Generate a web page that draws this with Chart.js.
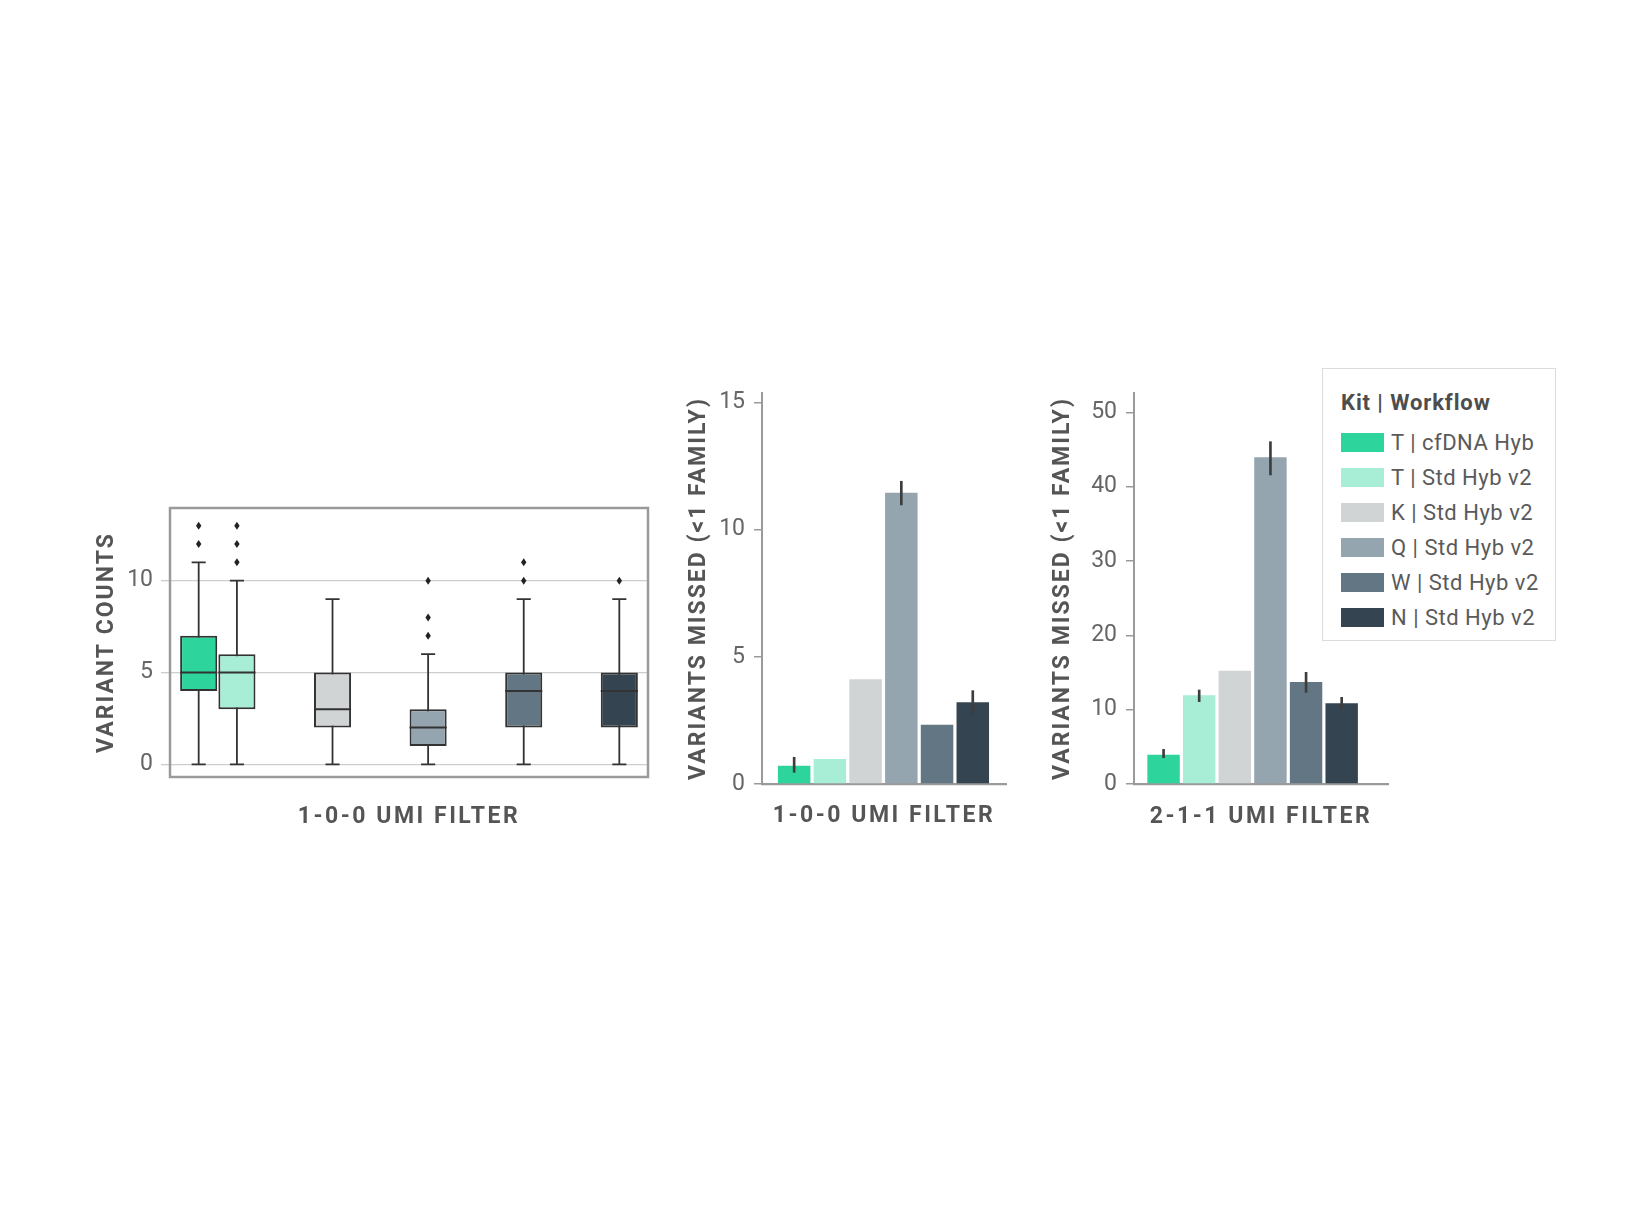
<!DOCTYPE html>
<html>
<head>
<meta charset="utf-8">
<script src="https://cdn.jsdelivr.net/npm/chart.js@4.4.1/dist/chart.umd.min.js"></script>
<style>
  html, body { margin: 0; background: #fff; }
  body { width: 1632px; height: 1224px; position: relative; overflow: hidden; font-family: Roboto, sans-serif; }
  .panel { position: absolute; }
  #legend {
    position: absolute; left: 1322px; top: 368px; width: 234px; height: 273px;
    box-sizing: border-box; border: 1px solid #dcdcdc; background: #fff;
  }
  #legend .title { margin: 19px 0 0 18px; font: 700 22px/30px Roboto, sans-serif; color: #4d4d4d; letter-spacing: 0.9px; }
  #legend .rows { margin-top: 7px; }
  #legend .row { display: flex; align-items: center; height: 35px; margin-left: 18px;
    font: 400 22px/35px Roboto, sans-serif; color: #5a5a5a; white-space: nowrap; letter-spacing: 0.5px; }
  #legend .sw { width: 43px; height: 19px; margin-right: 7px; flex: none; }
</style>
</head>
<body>
<div class="panel" style="left:80px;top:480px;width:590px;height:360px"><canvas id="boxChart"></canvas></div>
<div class="panel" style="left:671px;top:360px;width:355px;height:480px"><canvas id="missed100"></canvas></div>
<div class="panel" style="left:1035px;top:360px;width:373px;height:480px"><canvas id="missed211"></canvas></div>
<div id="legend"><div class="title">Kit | Workflow</div><div class="rows"></div></div>

<script>
// kits and workflows
const boxKits = ['T', 'K', 'Q', 'W', 'N'];
const kitLabels = ['T | cfDNA Hyb', 'T | Std Hyb v2', 'K | Std Hyb v2', 'Q | Std Hyb v2', 'W | Std Hyb v2', 'N | Std Hyb v2'];
const kitColors = ['#2dd49b', '#a8edd5', '#d0d4d5', '#95a5af', '#637684', '#344551'];

// variant counts, 1-0-0 UMI filter (cfDNA Hyb was only run with kit T)
const cfdnaQ1 = [4, null, null, null, null];
const cfdnaQ3 = [7, null, null, null, null];
const cfdnaMedian = [5, null, null, null, null];
const cfdnaLow = [0, null, null, null, null];
const cfdnaHigh = [11, null, null, null, null];
const cfdnaOutliers = [[12, 13], [], [], [], []];

const stdQ1 = [3, 2, 1, 2, 2];
const stdQ3 = [6, 5, 3, 5, 5];
const stdMedian = [5, 3, 2, 4, 4];
const stdLow = [0, 0, 0, 0, 0];
const stdHigh = [10, 9, 6, 9, 9];
const stdOutliers = [[11, 12, 13], [], [7, 8, 10], [10, 11], [10]];

// variants missed (<1 family), mean and error bar ends
const missed100 = [0.72, 0.98, 4.12, 11.45, 2.33, 3.21];
const missed100Low = [0.46, null, null, 10.97, null, 2.75];
const missed100High = [1.05, null, null, 11.9, null, 3.67];

const missed211 = [3.92, 11.95, 15.25, 43.95, 13.72, 10.87];
const missed211Low = [3.54, 11.08, null, 41.57, 12.33, 10.09];
const missed211High = [4.66, 12.65, null, 46.05, 15.02, 11.66];

const axisGrey = '#9a9a9a';
const titleGrey = '#555';
const tickGrey = '#666';

Chart.defaults.font.family = 'Roboto, sans-serif';
Chart.defaults.animation = false;
Chart.defaults.plugins.legend.display = false;
Chart.defaults.plugins.tooltip.enabled = false;

// axis titles are letter-spaced in the original
const spacedTitles = {
  id: 'spacedTitles',
  beforeDraw(chart) {
    Object.values(chart.scales).forEach(scale => {
      if (scale.$spaced) return;
      const drawTitle = scale.drawTitle;
      scale.drawTitle = function () {
        this.ctx.save();
        this.ctx.letterSpacing = this.axis === 'x' ? '2.5px' : '2px';
        drawTitle.call(this);
        this.ctx.restore();
      };
      scale.$spaced = true;
    });
  }
};

// box plot helpers: whiskers, medians, outliers, frame
const boxStats = [
  { median: cfdnaMedian, low: cfdnaLow, high: cfdnaHigh, outliers: cfdnaOutliers },
  { median: stdMedian, low: stdLow, high: stdHigh, outliers: stdOutliers }
];

const boxParts = {
  id: 'boxParts',
  beforeDatasetsDraw(chart) {
    const { ctx } = chart;
    const y = chart.scales.y;
    ctx.save();
    ctx.strokeStyle = '#333';
    ctx.lineWidth = 1.8;
    boxStats.forEach((s, d) => {
      chart.getDatasetMeta(d).data.forEach((bar, i) => {
        if (s.median[i] === null) return;
        const cap = bar.width * 0.19;
        const yl = y.getPixelForValue(s.low[i]);
        const yh = y.getPixelForValue(s.high[i]);
        ctx.beginPath();
        ctx.moveTo(bar.x, yl); ctx.lineTo(bar.x, yh);
        ctx.moveTo(bar.x - cap, yl); ctx.lineTo(bar.x + cap, yl);
        ctx.moveTo(bar.x - cap, yh); ctx.lineTo(bar.x + cap, yh);
        ctx.stroke();
      });
    });
    ctx.restore();
  },
  afterDatasetsDraw(chart) {
    const { ctx } = chart;
    const y = chart.scales.y;
    ctx.save();
    boxStats.forEach((s, d) => {
      chart.getDatasetMeta(d).data.forEach((bar, i) => {
        if (s.median[i] === null) return;
        const ym = y.getPixelForValue(s.median[i]);
        ctx.strokeStyle = '#333';
        ctx.lineWidth = 2;
        ctx.beginPath();
        ctx.moveTo(bar.x - bar.width / 2, ym);
        ctx.lineTo(bar.x + bar.width / 2, ym);
        ctx.stroke();
        ctx.fillStyle = '#222';
        s.outliers[i].forEach(v => {
          const yo = y.getPixelForValue(v);
          ctx.beginPath();
          ctx.moveTo(bar.x, yo - 4);
          ctx.lineTo(bar.x + 2.7, yo);
          ctx.lineTo(bar.x, yo + 4);
          ctx.lineTo(bar.x - 2.7, yo);
          ctx.closePath();
          ctx.fill();
        });
      });
    });
    ctx.restore();
  },
  afterDraw(chart) {
    const { ctx, chartArea: a } = chart;
    ctx.save();
    ctx.strokeStyle = axisGrey;
    ctx.lineWidth = 2.5;
    ctx.strokeRect(a.left, a.top, a.right - a.left, a.bottom - a.top);
    ctx.restore();
  }
};

new Chart(document.getElementById('boxChart'), {
  type: 'bar',
  data: {
    labels: boxKits,
    datasets: [
      {
        label: kitLabels[0],
        data: cfdnaQ1.map((q, i) => q === null ? null : [q, cfdnaQ3[i]]),
        backgroundColor: kitColors[0]
      },
      {
        label: 'Std Hyb v2',
        data: stdQ1.map((q, i) => [q, stdQ3[i]]),
        backgroundColor: kitColors.slice(1)
      }
    ]
  },
  options: {
    responsive: true,
    maintainAspectRatio: false,
    layout: { padding: { left: 10, top: 28, right: 22, bottom: 9 } },
    datasets: {
      bar: {
        categoryPercentage: 0.8,
        barPercentage: 0.97,
        borderColor: '#333',
        borderWidth: 2,
        borderSkipped: false
      }
    },
    scales: {
      x: {
        ticks: { display: false },
        grid: { display: false },
        border: { display: false },
        title: { display: true, text: '1-0-0 UMI FILTER', color: titleGrey, font: { size: 23, weight: 'bold' }, padding: 0 },
        afterFit: s => { s.height = 54; }
      },
      y: {
        min: -0.69,
        max: 13.96,
        ticks: { stepSize: 5, includeBounds: false, color: tickGrey, font: { size: 23, weight: '400' }, padding: 8 },
        grid: { color: '#cdcdcd', lineWidth: 1.3, tickLength: 9 },
        border: { display: false },
        title: { display: true, text: 'VARIANT COUNTS', color: titleGrey, font: { size: 23, weight: 'bold' }, padding: { top: 3, bottom: 0 } },
        afterFit: s => { s.width = 80; }
      }
    }
  },
  plugins: [boxParts, spacedTitles]
});

function missedChart(id, values, low, high, title, yMax, step, xMin, xMax, axisWidth, axisHeight, padBottom) {
  const errors = values
    .map((v, i) => low[i] === null ? null : { x: i, y: [low[i], high[i]] })
    .filter(e => e !== null);
  return new Chart(document.getElementById(id), {
    type: 'bar',
    data: {
      datasets: [
        { label: 'error', data: errors, backgroundColor: '#3d3d3d', barThickness: 2, grouped: false },
        {
          label: 'mean',
          data: values.map((v, i) => ({ x: i, y: v })),
          backgroundColor: kitColors,
          grouped: false,
          categoryPercentage: 1,
          barPercentage: 0.91
        }
      ]
    },
    options: {
      responsive: true,
      maintainAspectRatio: false,
      layout: { padding: { left: 10, top: 33, right: 20, bottom: padBottom } },
      scales: {
        x: {
          type: 'linear',
          min: xMin,
          max: xMax,
          offset: false,
          ticks: { display: false, stepSize: 1, includeBounds: false },
          grid: { display: false },
          border: { display: true, color: axisGrey, width: 2.3 },
          title: { display: true, text: title, color: titleGrey, font: { size: 23, weight: 'bold' }, padding: 0 },
          afterFit: s => { s.height = axisHeight; }
        },
        y: {
          min: 0,
          max: yMax,
          ticks: { stepSize: step, includeBounds: false, color: tickGrey, font: { size: 23, weight: '400' }, padding: 9 },
          grid: { drawOnChartArea: false, tickLength: 8, color: axisGrey, lineWidth: 1.5 },
          border: { display: true, color: axisGrey, width: 2 },
          title: { display: true, text: 'VARIANTS MISSED (<1 FAMILY)', color: titleGrey, font: { size: 23, weight: 'bold' }, padding: { top: 4, bottom: 0 } },
          afterFit: s => { s.width = axisWidth; }
        }
      }
    },
    plugins: [spacedTitles]
  });
}

missedChart('missed100', missed100, missed100Low, missed100High, '1-0-0 UMI FILTER', 15.37, 5, -0.9, 5.93, 81, 46, 10);
missedChart('missed211', missed211, missed211Low, missed211High, '2-1-1 UMI FILTER', 52.6, 10, -0.83, 6.3, 89, 47, 9);

// legend built from the same kit arrays
const rows = document.querySelector('#legend .rows');
kitLabels.forEach((label, i) => {
  const row = document.createElement('div');
  row.className = 'row';
  const sw = document.createElement('span');
  sw.className = 'sw';
  sw.style.background = kitColors[i];
  const txt = document.createElement('span');
  txt.textContent = label;
  row.appendChild(sw);
  row.appendChild(txt);
  rows.appendChild(row);
});
</script>
</body>
</html>
